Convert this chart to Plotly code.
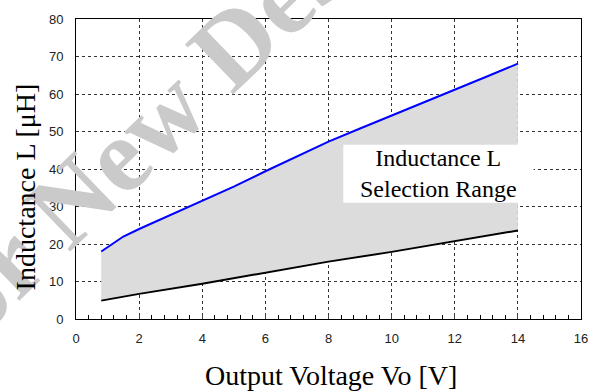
import plotly.graph_objects as go

# Data
vo_upper = [0.8, 1.5, 2, 3, 4, 5, 6, 7, 8, 9, 10, 11, 12, 13, 14]
l_upper = [18, 22, 24, 27.7, 31.4, 35.3, 39.4, 43.4, 47.3, 50.8, 54.2, 57.7, 61.1, 64.6, 68.1]
vo_lower = [0.8, 2, 4, 6, 8, 10, 12, 14]
l_lower = [4.9, 6.7, 9.4, 12.3, 15.3, 17.9, 20.8, 23.6]

x_ticks = [0, 2, 4, 6, 8, 10, 12, 14, 16]
y_ticks = [0, 10, 20, 30, 40, 50, 60, 70, 80]

serif = "Liberation Serif, Times New Roman, serif"
sans = "Liberation Sans, Arial, sans-serif"

W, H = 600, 391
ML, MR, MT, MB = 76, 16, 12, 72
PW, PH = W - ML - MR, H - MT - MB


def px_to_paper(px, py):
    return (px - ML) / PW, (H - MB - py) / PH


fig = go.Figure()
fig.add_trace(go.Scatter(x=vo_lower, y=l_lower, mode="lines",
                         line=dict(color="black", width=2), showlegend=False))
fig.add_trace(go.Scatter(x=vo_upper, y=l_upper, mode="lines",
                         line=dict(color="#0000ff", width=2),
                         fill="tonexty", fillcolor="#dcdcdc", showlegend=False))

axis_common = dict(showline=True, linecolor="black", linewidth=1, mirror=True,
                   showgrid=True, gridcolor="#333333", gridwidth=1, griddash="3px,3px",
                   zeroline=False, layer="above traces",
                   tickfont=dict(family=sans, size=13, color="#222222"))

fig.update_xaxes(range=[0, 16], tickvals=x_ticks, ticks="inside", ticklen=4,
                 ticklabelstandoff=7,
                 minor=dict(dtick=0.4, ticks="inside", ticklen=4, tickcolor="black", showgrid=False),
                 **axis_common)
fig.update_yaxes(range=[0, 80], tickvals=y_ticks, ticks="", ticklabelstandoff=9,
                 **axis_common)

# Watermark (drawn first so other texts sit above it)
wm = px_to_paper(194, 78)
fig.add_annotation(x=wm[0], y=wm[1], xref="paper", yref="paper", showarrow=False,
                   xanchor="center", yanchor="middle",
                   text="<b>for New Designs</b>", textangle=-44,
                   font=dict(family=serif, size=106, color="#cacaca"))

# Axis titles
xt = px_to_paper(333, 377)
fig.add_annotation(x=xt[0], y=xt[1], xref="paper", yref="paper", showarrow=False,
                   xanchor="center", yanchor="middle",
                   text="Output Voltage Vo [V]",
                   font=dict(family=serif, size=28, color="black"))
yt = px_to_paper(25, 184)
fig.add_annotation(x=yt[0], y=yt[1], xref="paper", yref="paper", showarrow=False,
                   xanchor="center", yanchor="middle", textangle=-90,
                   text="Inductance L [μH]",
                   font=dict(family=serif, size=28, color="black"))

# White label box
fig.add_shape(type="rect", x0=8.47, x1=14.5, y0=31.0, y1=46.5, xref="x", yref="y",
              fillcolor="white", line=dict(width=0), layer="above")
fig.add_annotation(x=11.5, y=38.8, xref="x", yref="y", showarrow=False,
                   text="Inductance L<br>Selection Range",
                   font=dict(family=serif, size=24, color="black"))

fig.update_layout(width=W, height=H, margin=dict(l=ML, r=MR, t=MT, b=MB),
                  plot_bgcolor="white", paper_bgcolor="white")

fig.write_html("out.html")
